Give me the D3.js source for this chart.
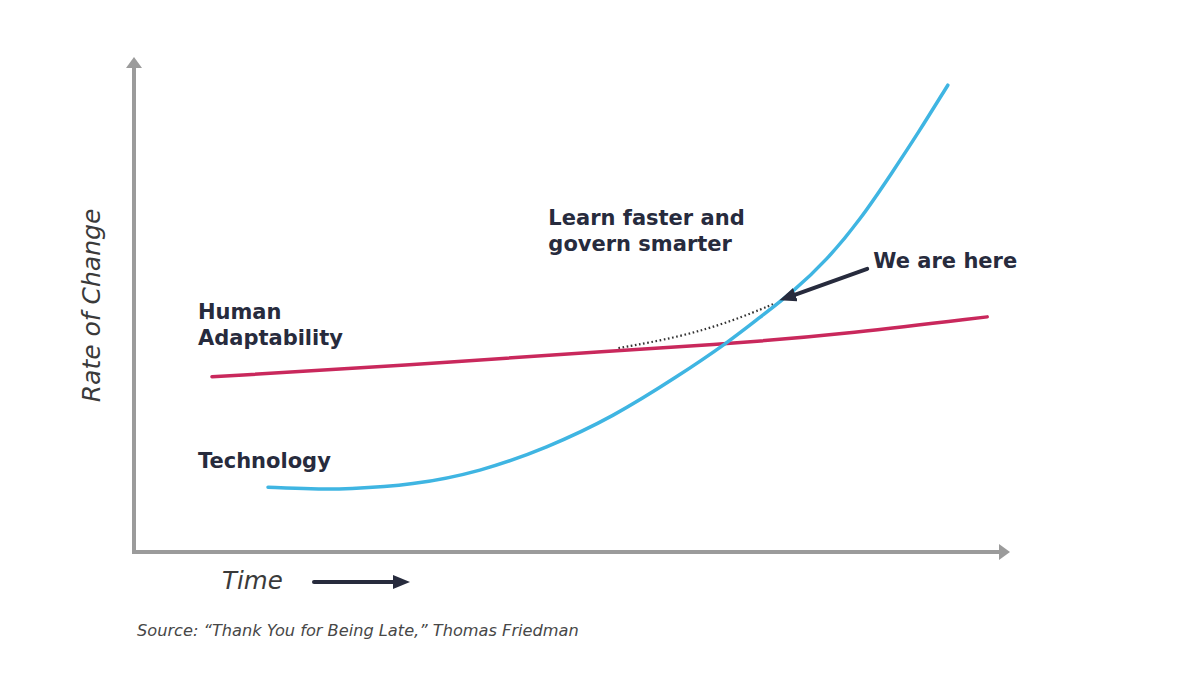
<!DOCTYPE html>
<html>
<head>
<meta charset="utf-8">
<script src="https://cdn.jsdelivr.net/npm/d3@7"></script>
<style>
  body { margin: 0; background: #fff; }
  svg { display: block; }
  .lbl { font-family: "DejaVu Sans", Verdana, sans-serif; font-weight: bold; fill: #272b3d; }
  .ital { font-family: "DejaVu Sans", Verdana, sans-serif; font-style: italic; fill: #3a3a3a; }
</style>
</head>
<body>
<svg id="chart"></svg>
<script>
// Time (0-100) vs rate of change (0-100)
const techTime   = [15.3, 20.4, 24.3, 31.8, 39.5, 47.1, 54.7, 62.0, 67.7, 71.5, 75.2, 79.1, 82.9, 86.6, 89.5, 92.9];
const techRate   = [13.1, 12.7, 12.7, 13.5, 16.2, 21.0, 27.3, 35.4, 42.2, 47.5, 52.5, 59.0, 67.1, 76.8, 84.6, 94.3];
const humanTime  = [8.9, 30.4, 55.5, 67.7, 82.1, 97.4];
const humanRate  = [35.4, 37.6, 40.8, 42.0, 44.2, 47.5];
const gapTime    = [55.3, 62.3, 68.4, 73.0];
const gapRate    = [41.2, 43.4, 46.7, 50.1];

// annotation anchors in data units
const labelText  = [["Human", "Adaptability"], ["Technology"], ["Learn faster and", "govern smarter"], ["We are here"]];
const labelTime  = [7.3, 7.3, 47.3, 84.4];
const labelRate  = [47.1, 17.0, 66.1, 57.4];
const hereFrom   = [83.7, 57.2];
const hereTo     = [75.5, 52.0];

const W = 1200, H = 674;
const svg = d3.select('#chart').attr('width', W).attr('height', H);

const x = d3.scaleLinear().domain([0, 100]).range([134, 1010]);
const y = d3.scaleLinear().domain([0, 100]).range([552, 57]);

const defs = svg.append('defs');
function arrowMarker(id, color, len, half) {
  defs.append('marker')
    .attr('id', id)
    .attr('markerUnits', 'userSpaceOnUse')
    .attr('viewBox', `0 ${-half} ${len} ${half * 2}`)
    .attr('refX', 0).attr('refY', 0)
    .attr('markerWidth', len).attr('markerHeight', half * 2)
    .attr('orient', 'auto')
    .append('path')
    .attr('d', `M0,${-half}L${len},0L0,${half}Z`)
    .attr('fill', color);
}
arrowMarker('axisHead', '#9b9b9b', 11, 8);
arrowMarker('darkHead', '#272b3d', 17, 7);

// axes
const axisColor = '#9b9b9b';
svg.append('line')
  .attr('x1', x(0)).attr('y1', y(0) + 2)
  .attr('x2', x(0)).attr('y2', y(100) + 11)
  .attr('stroke', axisColor).attr('stroke-width', 4)
  .attr('marker-end', 'url(#axisHead)');
svg.append('line')
  .attr('x1', x(0) - 2).attr('y1', y(0))
  .attr('x2', x(100) - 11).attr('y2', y(0))
  .attr('stroke', axisColor).attr('stroke-width', 4)
  .attr('marker-end', 'url(#axisHead)');

// series (basis spline smooths out the reading noise)
const line = d3.line().x(d => x(d[0])).y(d => y(d[1])).curve(d3.curveBasis);
const human = d3.zip(humanTime, humanRate);
const tech = d3.zip(techTime, techRate);
const gap = d3.zip(gapTime, gapRate);

svg.append('path').datum(gap)
  .attr('d', line)
  .attr('fill', 'none')
  .attr('stroke', '#333')
  .attr('stroke-width', 2.2)
  .attr('stroke-dasharray', '1.6,2.6');

svg.append('path').datum(human)
  .attr('d', line)
  .attr('fill', 'none')
  .attr('stroke', '#c9285c')
  .attr('stroke-width', 3.5)
  .attr('stroke-linecap', 'round');

svg.append('path').datum(tech)
  .attr('d', line)
  .attr('fill', 'none')
  .attr('stroke', '#3fb5e2')
  .attr('stroke-width', 3.5)
  .attr('stroke-linecap', 'round');

// "we are here" pointer
svg.append('line')
  .attr('x1', x(hereFrom[0])).attr('y1', y(hereFrom[1]))
  .attr('x2', x(hereTo[0])).attr('y2', y(hereTo[1]))
  .attr('stroke', '#272b3d').attr('stroke-width', 4)
  .attr('stroke-linecap', 'round')
  .attr('marker-end', 'url(#darkHead)');

// labels
labelText.forEach((lines, i) => {
  const t = svg.append('text')
    .attr('class', 'lbl')
    .attr('x', x(labelTime[i]))
    .attr('y', y(labelRate[i]))
    .style('font-size', '21px');
  lines.forEach((s, j) => {
    t.append('tspan')
      .attr('x', x(labelTime[i]))
      .attr('dy', j === 0 ? 0 : 26)
      .text(s);
  });
});

// axis titles
svg.append('text')
  .attr('class', 'ital')
  .attr('transform', `translate(100, ${(y(0) + y(100)) / 2 + 1}) rotate(-90)`)
  .attr('text-anchor', 'middle')
  .style('font-size', '25px')
  .text('Rate of Change');

svg.append('text')
  .attr('class', 'ital')
  .attr('x', 222).attr('y', y(0) + 37)
  .style('font-size', '24.5px')
  .text('Time');

svg.append('line')
  .attr('x1', 314).attr('y1', y(0) + 30)
  .attr('x2', 393).attr('y2', y(0) + 30)
  .attr('stroke', '#272b3d').attr('stroke-width', 4)
  .attr('stroke-linecap', 'round')
  .attr('marker-end', 'url(#darkHead)');

svg.append('text')
  .attr('class', 'ital')
  .attr('x', 137).attr('y', 636)
  .style('font-size', '16.2px')
  .style('fill', '#474747')
  .text('Source: \u201cThank You for Being Late,\u201d Thomas Friedman');
</script>
</body>
</html>
